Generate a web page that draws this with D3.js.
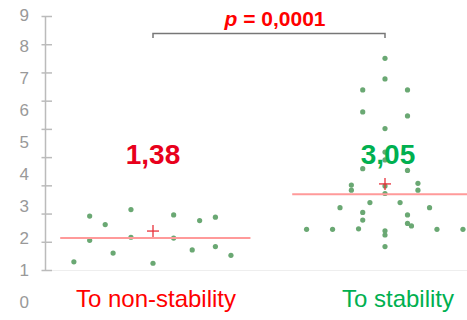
<!DOCTYPE html>
<html>
<head>
  <meta charset="utf-8">
  <title>Dot plot</title>
  <script src="https://cdn.jsdelivr.net/npm/d3@7"></script>
  <style>
    body { margin: 0; background: white; }
    text { font-family: Arial, "Liberation Sans", sans-serif; }
  </style>
</head>
<body>
  <script>
    var categories = ["To non-stability", "To stability"];
    var categoryColors = ["#ff0000", "#00b050"];
    var meanLabels = ["1,38", "3,05"];
    var meanColors = ["#e8001c", "#00b050"];
    var means = [1.38, 3.05];
    var medians = [1.13, 2.68];
    var pLabel = "= 0,0001";
    var tickLabels = ["0", "1", "2", "3", "4", "5", "6", "7", "8", "9"];

    // values and horizontal jitter (in category units) for each dot
    var nonStabValues = [0.29, 1.91, 1.05, 1.61, 0.60, 2.14, 1.16, 0.24, 1.95, 1.13, 0.71, 1.75, 1.87, 0.83, 0.52];
    var nonStabJitter = [-0.341, -0.273, -0.273, -0.206, -0.172, -0.095, -0.095, 0, 0.089, 0.089, 0.169, 0.201, 0.269, 0.269, 0.336];
    var stabValues = [7.50, 6.77, 6.38, 6.38, 5.60, 5.46, 5.01, 4.18, 3.90, 3.59, 3.53, 3.01, 2.83, 3.07, 2.83, 2.98, 2.71,
                      2.39, 2.39, 2.21, 2.21, 2.04, 1.77, 1.95, 1.65, 1.56, 1.44, 1.44, 1.44, 1.44, 1.46, 1.39, 1.24, 0.83];
    var stabJitter = [0, 0, -0.096, 0.097, -0.096, 0.097, 0, 0, 0, -0.096, 0.097, -0.145, -0.145, 0.142, 0.142, 0, 0,
                      -0.065, 0.065, -0.194, 0.192, -0.096, -0.096, 0.097, 0.097, 0.114, -0.338, -0.226, 0.224, 0.336, -0.114, 0, 0, 0];

    var width = 467, height = 320;
    var svg = d3.select('body').append('svg')
      .attr('width', width)
      .attr('height', height);

    var x = d3.scaleLinear().domain([0, 1]).range([153, 385]);
    var y = d3.scaleLinear().domain([0, 9]).range([270, 16]);
    // the printed labels sit on their own, slightly wider spacing
    var labelY = d3.scaleLinear().domain([0, 9]).range([302, 15]);

    // faint baseline
    svg.append('line')
      .attr('x1', 45).attr('x2', width)
      .attr('y1', y(0) + 0.5).attr('y2', y(0) + 0.5)
      .attr('stroke', '#eeeeee');

    // y axis with crossing ticks
    var axis = d3.axisLeft(y).tickValues(d3.range(0, 10)).tickSize(-10).tickFormat('').tickSizeOuter(0);
    var axisG = svg.append('g')
      .attr('transform', 'translate(45,0)')
      .call(axis);
    axisG.select('.domain').attr('stroke', '#bbbbbb').attr('stroke-width', 1.5);
    axisG.selectAll('.tick line')
      .attr('x1', -3.5).attr('x2', 7)
      .attr('stroke', '#bbbbbb').attr('stroke-width', 1.5);

    svg.selectAll('.ylab')
      .data(tickLabels)
      .enter().append('text')
      .attr('class', 'ylab')
      .attr('x', 29)
      .attr('y', function (d, i) { return labelY(i); })
      .attr('text-anchor', 'end')
      .attr('dominant-baseline', 'central')
      .attr('fill', '#999999')
      .style('font-size', '17px')
      .text(function (d) { return d; });

    // dots
    var groups = [
      { values: nonStabValues, jitter: nonStabJitter },
      { values: stabValues, jitter: stabJitter }
    ];
    groups.forEach(function (g, gi) {
      svg.append('g').selectAll('circle')
        .data(g.values)
        .enter().append('circle')
        .attr('cx', function (d, i) { return x(gi + g.jitter[i]); })
        .attr('cy', function (d) { return y(d); })
        .attr('r', 2.6)
        .attr('fill', '#6aa873');
    });

    // median lines
    svg.selectAll('.median')
      .data(medians)
      .enter().append('line')
      .attr('class', 'median')
      .attr('x1', function (d, i) { return x(i - 0.4); })
      .attr('x2', function (d, i) { return x(i + 0.42); })
      .attr('y1', function (d) { return y(d); })
      .attr('y2', function (d) { return y(d); })
      .attr('stroke', '#ff9a9a')
      .attr('stroke-width', 2);

    // mean markers
    var meanG = svg.selectAll('.mean')
      .data(means)
      .enter().append('g')
      .attr('class', 'mean')
      .attr('transform', function (d, i) { return 'translate(' + x(i) + ',' + y(d) + ')'; });
    meanG.append('line').attr('x1', -6).attr('x2', 6).attr('stroke', '#e8303a').attr('stroke-width', 1.3);
    meanG.append('line').attr('y1', -6).attr('y2', 6).attr('stroke', '#e8303a').attr('stroke-width', 1.3);

    // mean labels
    svg.selectAll('.meanlab')
      .data(meanLabels)
      .enter().append('text')
      .attr('class', 'meanlab')
      .attr('x', function (d, i) { return x(i) + (i === 0 ? 0 : 3); })
      .attr('y', 164)
      .attr('text-anchor', 'middle')
      .attr('fill', function (d, i) { return meanColors[i]; })
      .style('font-size', '28px')
      .style('font-weight', 'bold')
      .text(function (d) { return d; });

    // significance bracket
    svg.append('path')
      .attr('d', 'M' + x(0) + ',38V33.5H' + x(1) + 'V38')
      .attr('fill', 'none')
      .attr('stroke', '#777777')
      .attr('stroke-width', 1.5);
    var pText = svg.append('text')
      .attr('x', (x(0) + x(1)) / 2 + 6)
      .attr('y', 26)
      .attr('text-anchor', 'middle')
      .attr('fill', '#ff0000')
      .style('font-size', '21px')
      .style('font-weight', 'bold');
    pText.append('tspan').style('font-style', 'italic').text('p ');
    pText.append('tspan').text(pLabel);

    // category labels
    svg.selectAll('.cat')
      .data(categories)
      .enter().append('text')
      .attr('class', 'cat')
      .attr('x', function (d, i) { return x(i) + (i === 0 ? 3 : 13); })
      .attr('y', 307)
      .attr('text-anchor', 'middle')
      .attr('fill', function (d, i) { return categoryColors[i]; })
      .style('font-size', '24px')
      .text(function (d) { return d; });
  </script>
</body>
</html>
